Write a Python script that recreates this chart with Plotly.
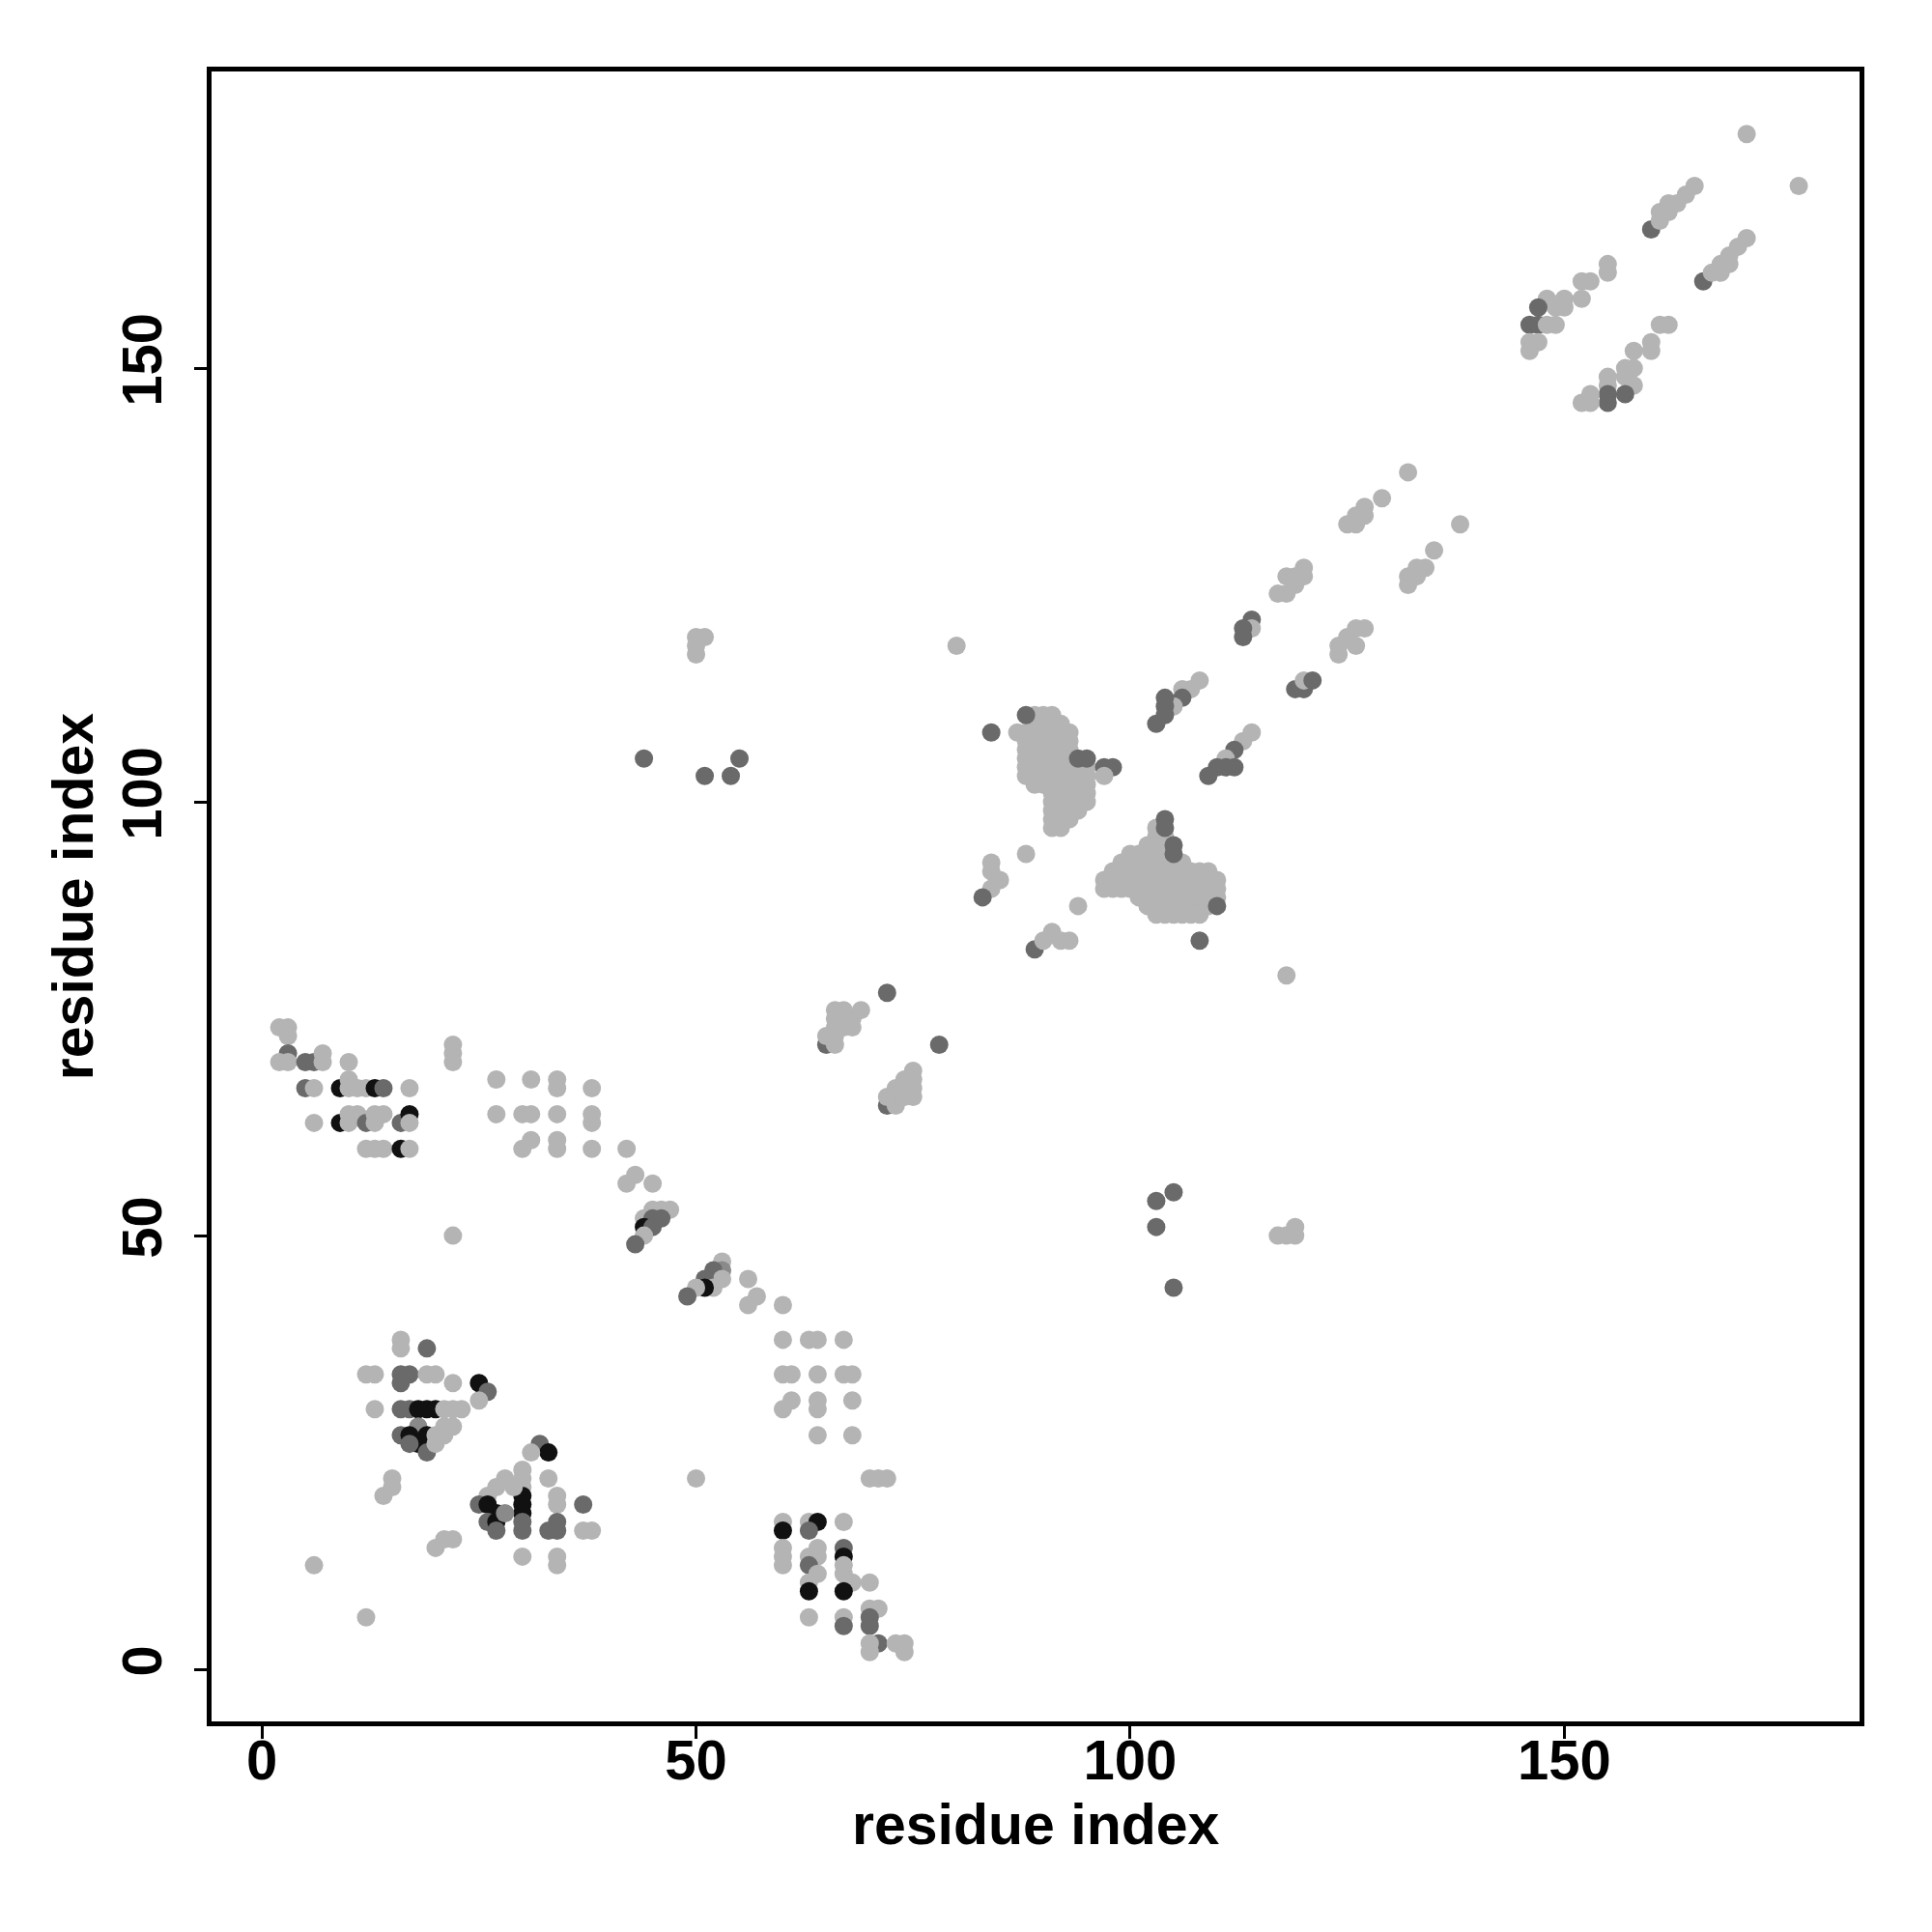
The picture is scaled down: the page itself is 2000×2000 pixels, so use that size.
import plotly.graph_objects as go

# contact points: residue i (x), residue j (y), shade level (1=light,2=medium,3=dark,4=black)
pts = """
2,74,1 3,74,1 3,73,1 3,71,3 2,70,1 3,70,1 5,70,3 6,70,3 7,70,1 7,71,1 10,70,1
5,67,3 6,67,1 9,67,4 10,68,1 10,67,1 11,67,1 12,67,1 13,67,4 14,67,3 17,67,1
6,63,1 9,63,4 10,64,1 11,64,1 10,63,1 12,63,3 13,64,1 14,64,1 13,63,1 16,63,3 17,64,4 17,63,1
12,60,1 13,60,1 14,60,1 16,60,4 17,60,1
22,72,1 22,71,1 22,70,1 22,50,1
27,68,1 31,68,1 34,68,1 34,67,1 38,67,1
27,64,1 30,64,1 31,64,1 34,64,1 38,64,1 38,63,1
31,61,1 30,60,1 34,61,1 34,60,1 38,60,1 42,60,1 42,56,1 43,57,1 45,56,1
44,52,1 45,53,1 46,53,1 47,53,1 45,52,3 46,52,3 44,51,4 45,51,3 44,50,1 43,49,3
53,47,1 53,46,2 52,46,3 53,45,1 51,45,3 52,44,1 51,44,4 50,44,1 49,43,3
56,45,1 57,43,1 56,42,1 60,42,1
16,38,1 16,37,1 19,37,3 12,34,1 13,34,1 16,34,3 17,34,3 16,33,3 19,34,1 20,34,1 22,33,1
25,33,4 26,32,3 25,31,1 13,30,1
16,30,3 17,30,3 18,30,4 19,30,4 20,30,4 21,30,1 22,30,1 23,30,1
18,28,2 16,27,3 17,27,4 18,26,4 19,27,4 19,25,3 17,26,3 20,27,1 21,28,1 22,28,1 20,26,1 21,27,1
32,26,3 33,25,4 31,25,1
15,22,1 15,21,1 14,20,1
30,23,1 30,22,1 30,21,1 30,20,4 30,19,4 30,18,4 30,17,3 30,16,3
28,22,1 27,21,1 26,20,1 29,21,1
25,19,3 26,19,4 27,18,4 26,17,3 27,17,4 27,16,3 28,18,2
33,22,1 34,20,1 34,19,1 37,19,3 34,17,3 33,16,3 34,16,3 37,16,1 38,16,1
30,13,1 34,13,1 34,12,1 20,14,1 21,15,1 22,15,1 6,12,1 12,6,1
60,38,1 63,38,1 64,38,1 67,38,1
60,34,1 61,34,1 64,34,1 67,34,1 68,34,1
61,31,1 60,30,1 64,31,1 64,30,1 68,31,1
64,27,1 68,27,1
50,22,1 70,22,1 71,22,1 72,22,1
60,17,1 60,16,4 60,14,1 60,13,1 60,12,1
63,17,1 64,17,4 63,16,3 64,14,1 63,13,1 64,13,1 63,12,3 64,11,1 63,10,1 63,9,4 63,6,1
67,17,1 67,14,3 67,13,4 67,12,1 67,11,1 68,10,1 70,10,1 67,9,4 67,6,1 67,5,3
70,7,1 71,7,1 70,6,3 70,5,3 71,3,3 70,3,1 70,2,1 73,3,1 74,3,1 74,2,1
72,78,3 78,72,3
65,72,3 66,72,1 65,73,1 66,73,1 66,74,1 67,74,1 66,75,1 67,75,1 67,76,1 66,76,1 68,75,1 69,76,1 68,74,1
72,65,3 73,65,1 72,66,1 73,67,1 74,66,1 74,67,1 75,67,1 74,68,1 75,68,1 75,69,1 75,66,1
80,118,1 50,119,1 51,119,1 50,118,1 50,117,1
44,105,3 51,103,3 54,103,3 55,105,3
103,54,3 105,55,3 103,51,3 105,44,3 117,50,1 118,50,1 119,50,1 119,51,1
118,80,1 108,84,3
88,94,1 84,93,1 84,92,1 85,91,1 84,90,1 83,89,3 94,88,1
89,83,3 90,84,1 91,85,1 92,84,1 93,84,1
84,108,3
108,114,1 107,113,1 106,113,1 106,112,3 105,111,1 104,112,3 104,111,3 104,110,3 103,109,3
114,108,1 113,107,1 112,106,3 111,105,1 111,104,3 112,104,3 110,104,3 109,103,3
114,121,3 114,120,1 113,120,3 113,119,3
119,113,3 120,113,3 120,114,1 121,114,3
132,138,1 129,135,1 127,134,1 126,133,1 127,133,1 125,132,1 126,132,1 138,132,1
135,129,1 134,127,1 133,127,1 133,126,1 132,126,1 132,125,1
120,127,1 118,126,1 119,126,1 120,126,1 119,125,1 117,124,1 118,124,1
127,120,1 126,120,1 125,119,1 126,118,1 124,118,1 124,117,1
171,177,1 177,171,1
160,166,3 161,167,1 161,168,1 162,168,1 162,169,1 163,169,1 164,170,1 165,171,1
166,160,3 167,161,1 168,161,1 168,162,1 169,162,1 169,163,1 170,164,1 171,165,1
155,162,1 155,161,1 152,160,1 153,160,1 152,158,1 150,158,1 148,158,1 149,157,1 150,157,1
147,157,3 146,155,3 147,155,3 148,155,1 149,155,1 146,153,1 147,153,1 146,152,1
161,155,1 162,155,1 160,153,1 160,152,1 158,152,1 157,150,1 158,150,1 157,149,1 158,148,1
157,147,3 155,149,1 155,148,1 155,147,3 155,146,3 153,147,1 152,146,1 153,146,1
"""

# dense blobs given as rows: (y, x_first, x_last, level)
blob_rows = [
    (110, 89, 91, 1), (109, 89, 92, 1), (108, 87, 93, 1), (107, 88, 93, 1),
    (106, 88, 93, 1), (105, 88, 93, 1), (104, 88, 95, 1), (103, 88, 95, 1),
    (102, 89, 95, 1), (101, 91, 95, 1), (100, 91, 95, 1), (99, 91, 94, 1),
    (98, 91, 93, 1), (97, 91, 92, 1),
    (96, 103, 104, 1), (95, 102, 104, 1), (94, 100, 104, 1), (93, 99, 106, 1),
    (92, 98, 109, 1), (91, 97, 110, 1), (90, 97, 110, 1), (89, 101, 110, 1),
    (88, 102, 109, 1), (87, 103, 108, 1),
]
blob_extra = """
88,110,3 94,105,3 95,105,3 97,104,3 98,104,3 97,103,1
103,97,1 104,98,3 104,97,3 105,95,3 105,94,3 110,88,3
"""

res_i, res_j, shade = [], [], []
for y, x0, x1, lv in blob_rows:
    for x in range(x0, x1 + 1):
        res_i.append(x); res_j.append(y); shade.append(lv)
for tok in (pts + blob_extra).split():
    a, b, c = tok.split(",")
    res_i.append(int(a)); res_j.append(int(b)); shade.append(int(c))

tick_vals = [0, 50, 100, 150]
tick_text = ["0", "50", "100", "150"]
axis_title = "residue index"

FONT = "Liberation Sans, Arial, Helvetica, sans-serif"
title_font = dict(family=FONT, size=59, color="black", weight="bold")

fig = go.Figure(go.Scatter(
    x=res_i, y=res_j, mode="markers",
    marker=dict(size=19, color=shade, cmin=1, cmax=4,
                colorscale=[[0, "#b4b4b4"], [1/3, "#8a8a8a"], [2/3, "#6a6a6a"], [1, "#111111"]],
                line=dict(width=0)),
    hoverinfo="x+y",
))

axis_common = dict(
    showgrid=False, zeroline=False, showline=True, mirror=True, automargin=False,
    linecolor="black", linewidth=4.5, ticks="outside", ticklen=13, tickwidth=3,
    tickcolor="black", tickvals=tick_vals, ticktext=tick_text,
    tickfont=dict(family=FONT, size=58, color="black", weight="bold"),
)

fig.update_layout(
    width=2000, height=2000,
    margin=dict(l=211, r=83, t=66, b=226),
    paper_bgcolor="white", plot_bgcolor="white",
    showlegend=False,
    xaxis=dict(range=[-5.8, 184.0], ticklabelstandoff=-27, **axis_common),
    yaxis=dict(range=[-6.0, 184.2], tickangle=-90, ticklabelstandoff=11, **axis_common),
    annotations=[
        dict(text=axis_title, xref="paper", yref="paper", x=0.5, y=-0.0628,
             xanchor="center", yanchor="middle", showarrow=False, font=title_font),
        dict(text=axis_title, xref="paper", yref="paper", x=-0.0837, y=0.5,
             xanchor="center", yanchor="middle", showarrow=False, textangle=-90,
             font=title_font),
    ],
)

fig.write_html("out.html")
